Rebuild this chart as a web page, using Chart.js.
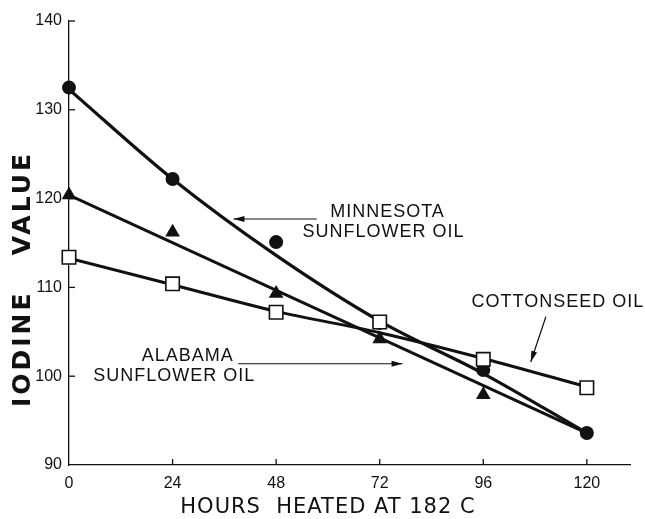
<!DOCTYPE html>
<html>
<head>
<meta charset="utf-8">
<script src="https://cdn.jsdelivr.net/npm/chart.js@4"></script>
<style>
  body { margin: 0; background: #fff; }
  canvas { display: block; }
</style>
</head>
<body>
<canvas id="chart" width="645" height="519"></canvas>
<script>
// hours of heating
const hours = [0, 24, 48, 72, 96, 120];
// measured iodine values (markers); null where no marker is visible
const minnesotaPts = [132.5, 122.2, 115.1, 106.0, 100.7, 93.6];
const alabamaPts = [120.4, 116.2, 109.3, 104.2, 97.9, null];
const cottonPts = [113.4, 110.4, 107.2, 106.1, 101.9, 98.7];
// hand-drawn fitted curves
const minnesotaFit = [132.3, 122.2, 113.6, 106.2, 100.3, 93.6];
const alabamaFitHours = [0, 120];
const alabamaFit = [120.4, 93.6];
const cottonFit = [113.3, 110.3, 107.3, 104.9, 102.0, 98.8];
// axis ticks
const xTicks = [0, 24, 48, 72, 96, 120];
const yTicks = [90, 100, 110, 120, 130, 140];

const ink = "#111";

const pts = (xs, ys) => xs.map((x, i) => ({ x: x, y: ys[i] }));

// labels placed in data units
const notes = [
  { lines: ["MINNESOTA", "SUNFLOWER OIL"], x: [73.8, 72.9], y: [118.5, 116.2] },
  { lines: ["ALABAMA", "SUNFLOWER OIL"], x: [27.5, 24.4], y: [102.3, 100.0] },
  { lines: ["COTTONSEED OIL"], x: [113.3], y: [108.4] },
];
const arrows = [
  { from: [57.4, 117.7], to: [38.1, 117.7] },
  { from: [39.2, 101.4], to: [77.3, 101.4] },
  { from: [110.5, 106.7], to: [107.0, 101.6] },
];

const arrowHead = (ctx, x0, y0, x1, y1) => {
  const a = Math.atan2(y1 - y0, x1 - x0);
  const len = 11, w = 3;
  ctx.beginPath();
  ctx.moveTo(x1, y1);
  ctx.lineTo(x1 - len * Math.cos(a) + w * Math.sin(a), y1 - len * Math.sin(a) - w * Math.cos(a));
  ctx.lineTo(x1 - len * Math.cos(a) - w * Math.sin(a), y1 - len * Math.sin(a) + w * Math.cos(a));
  ctx.closePath();
  ctx.fill();
};

const decorations = {
  id: "decorations",
  beforeDraw(chart) {
    const ctx = chart.ctx;
    ctx.save();
    ctx.fillStyle = "#fff";
    ctx.fillRect(0, 0, chart.width, chart.height);
    ctx.restore();
  },
  afterDraw(chart) {
    const ctx = chart.ctx;
    const xs = chart.scales.x, ys = chart.scales.y;
    const area = chart.chartArea;
    ctx.save();
    ctx.strokeStyle = ink;
    ctx.fillStyle = ink;
    ctx.lineWidth = 1.3;
    // inward tick marks
    yTicks.slice(1).forEach((v) => {
      const py = ys.getPixelForValue(v);
      ctx.beginPath();
      ctx.moveTo(area.left, py);
      ctx.lineTo(area.left + 6, py);
      ctx.stroke();
    });
    xTicks.slice(1).forEach((v) => {
      const px = xs.getPixelForValue(v);
      ctx.beginPath();
      ctx.moveTo(px, area.bottom);
      ctx.lineTo(px, area.bottom - 6);
      ctx.stroke();
    });
    // text labels
    ctx.font = "18px 'Liberation Sans', Arial, sans-serif";
    ctx.letterSpacing = "1px";
    ctx.textAlign = "center";
    ctx.textBaseline = "middle";
    notes.forEach((n) => {
      n.lines.forEach((t, i) => {
        ctx.fillText(t, xs.getPixelForValue(n.x[i]), ys.getPixelForValue(n.y[i]));
      });
    });
    // arrows
    ctx.lineWidth = 1.2;
    arrows.forEach((a) => {
      const x0 = xs.getPixelForValue(a.from[0]), y0 = ys.getPixelForValue(a.from[1]);
      const x1 = xs.getPixelForValue(a.to[0]), y1 = ys.getPixelForValue(a.to[1]);
      ctx.beginPath();
      ctx.moveTo(x0, y0);
      ctx.lineTo(x1, y1);
      ctx.stroke();
      arrowHead(ctx, x0, y0, x1, y1);
    });
    // axis titles
    ctx.font = "21px 'DejaVu Sans', sans-serif";
    ctx.letterSpacing = "1px";
    ctx.fillText("HOURS  HEATED AT 182 C", 328, 508);
    ctx.save();
    ctx.translate(23, 279);
    ctx.rotate(-Math.PI / 2);
    ctx.font = "bold 25px 'DejaVu Sans', sans-serif";
    ctx.letterSpacing = "3px";
    ctx.fillText("IODINE   VALUE", 0, 0);
    ctx.restore();
    ctx.restore();
  },
};

const chart = new Chart(document.getElementById("chart"), {
  type: "scatter",
  plugins: [decorations],
  data: {
    datasets: [
      {
        label: "Cottonseed oil",
        data: pts(hours, cottonPts),
        pointStyle: "rect",
        pointRadius: 9.5,
        backgroundColor: "#fff",
        borderColor: ink,
        borderWidth: 1.6,
        clip: false,
      },
      {
        label: "Minnesota sunflower oil",
        data: pts(hours, minnesotaPts),
        pointStyle: "circle",
        pointRadius: 7,
        backgroundColor: ink,
        borderColor: ink,
        borderWidth: 0,
        clip: false,
      },
      {
        label: "Alabama sunflower oil",
        data: pts(hours, alabamaPts),
        pointStyle: "triangle",
        pointRadius: 8.5,
        backgroundColor: ink,
        borderColor: ink,
        borderWidth: 0,
        clip: false,
      },
      {
        label: "Minnesota fit",
        data: pts(hours, minnesotaFit),
        showLine: true,
        pointRadius: 0,
        borderColor: ink,
        borderWidth: 3.2,
        cubicInterpolationMode: "monotone",
      },
      {
        label: "Alabama fit",
        data: pts(alabamaFitHours, alabamaFit),
        showLine: true,
        pointRadius: 0,
        borderColor: ink,
        borderWidth: 3,
      },
      {
        label: "Cottonseed fit",
        data: pts(hours, cottonFit),
        showLine: true,
        pointRadius: 0,
        borderColor: ink,
        borderWidth: 3,
        cubicInterpolationMode: "monotone",
      },
    ],
  },
  options: {
    responsive: false,
    devicePixelRatio: 1,
    animation: false,
    layout: { padding: { top: 21, right: 15, left: 0, bottom: 0 } },
    plugins: {
      legend: { display: false },
      tooltip: { enabled: false },
    },
    scales: {
      x: {
        type: "linear",
        min: 0,
        max: 130,
        afterBuildTicks: (scale) => {
          scale.ticks = xTicks.map((v) => ({ value: v }));
        },
        afterFit: (scale) => {
          scale.height = 54;
        },
        grid: { display: false, drawTicks: false },
        border: { display: true, color: ink, width: 1.3 },
        ticks: {
          color: ink,
          padding: 9,
          font: { family: "'Liberation Sans', Arial, sans-serif", size: 16 },
        },
      },
      y: {
        type: "linear",
        min: 90,
        max: 140,
        afterBuildTicks: (scale) => {
          scale.ticks = yTicks.map((v) => ({ value: v }));
        },
        afterFit: (scale) => {
          scale.width = 69;
        },
        grid: { display: false, drawTicks: false },
        border: { display: true, color: ink, width: 1.3 },
        ticks: {
          color: ink,
          padding: 7,
          font: { family: "'Liberation Sans', Arial, sans-serif", size: 16 },
        },
      },
    },
  },
});
</script>
</body>
</html>
